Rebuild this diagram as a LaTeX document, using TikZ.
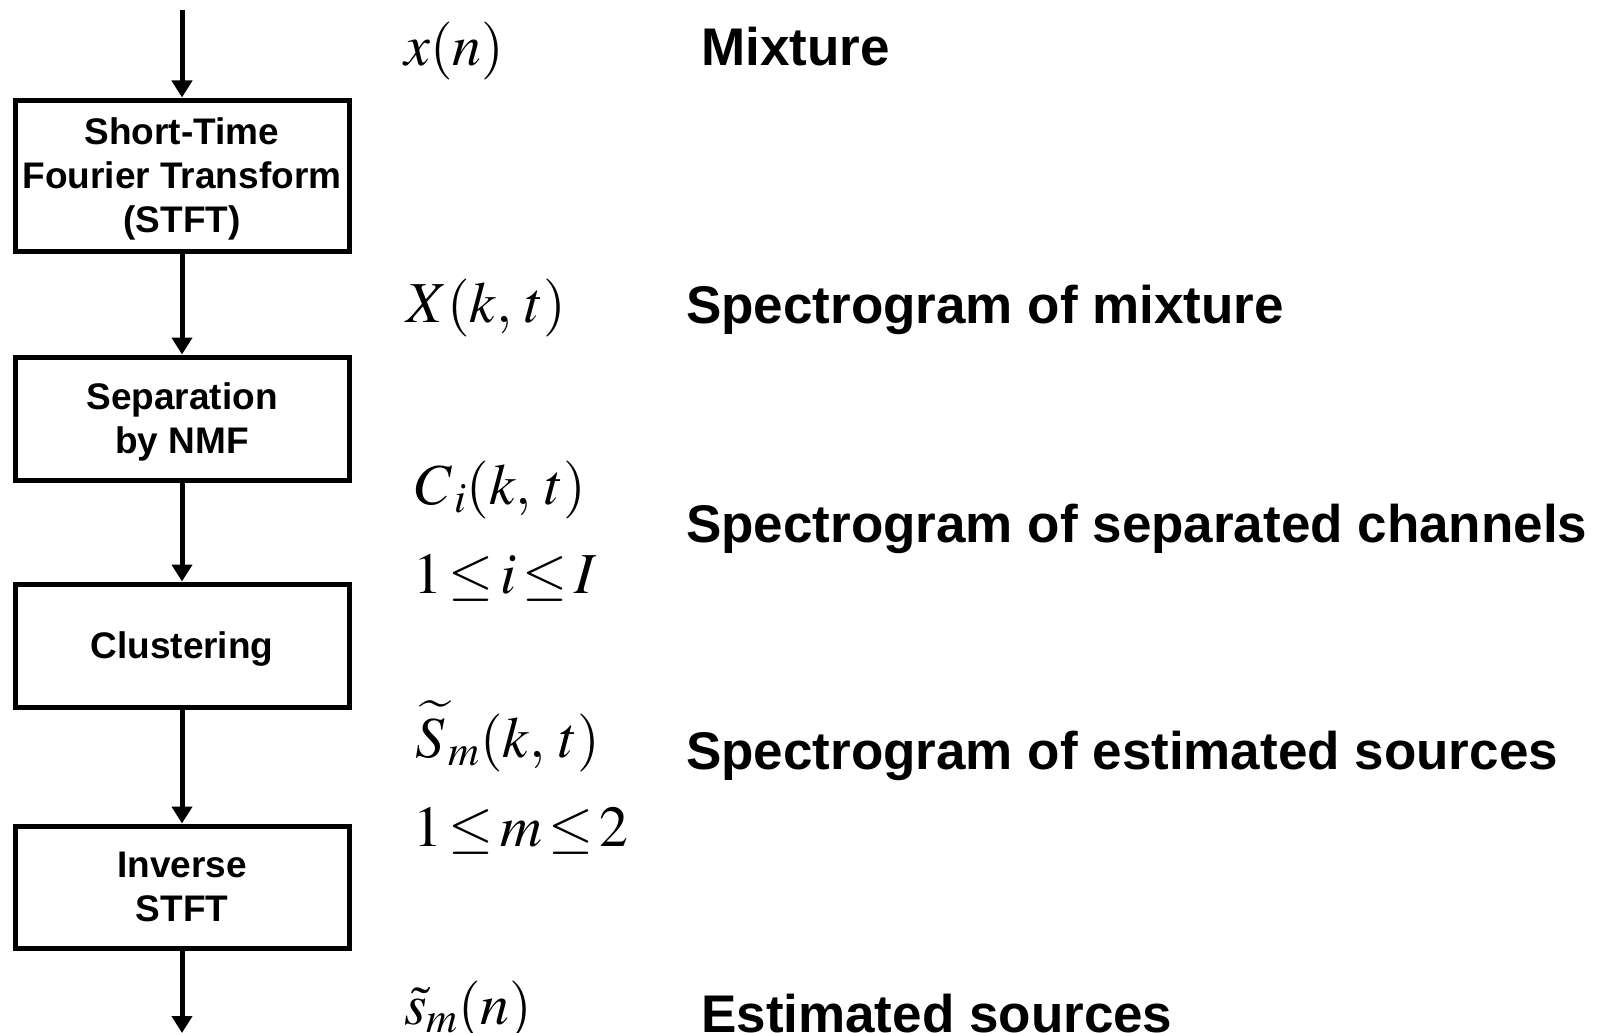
\documentclass[tikz,border=0pt]{standalone}
\usepackage{mathptmx}
\usepackage[no-math]{fontspec}
\setmainfont{Liberation Sans}
\usetikzlibrary{arrows.meta,positioning}

\tikzset{
  stage/.style={draw, line width=5pt, minimum width=334pt, inner sep=0pt,
    align=center, text depth=-6pt, font=\fontsize{37}{44}\selectfont\bfseries},
  sig/.style={anchor=base west, inner sep=0pt, font=\fontsize{58}{64}\selectfont},
  desc/.style={anchor=base west, inner sep=0pt, font=\fontsize{53}{60}\selectfont\bfseries},
  flow/.style={line width=5pt, -{Triangle[length=17pt,width=20pt]}}
}

\begin{document}
\begin{tikzpicture}[x=1pt, y=-1pt]
  \useasboundingbox (0,0) rectangle (1601,1033);

  % processing chain
  \node[stage, minimum height=151pt] (stft)  at (182,175.5) {Short-Time\\Fourier Transform\\(STFT)};
  \node[stage, minimum height=123pt] (nmf)   at (182,418.5) {Separation\\by NMF};
  \node[stage, minimum height=123pt] (clust) at (182,645.5) {Clustering};
  \node[stage, minimum height=122pt] (istft) at (182,887)   {Inverse\\STFT};

  \coordinate (in)  at (182,10);
  \coordinate (out) at (182,1033);

  \draw[flow] (in) -- (stft);
  \draw[flow] (stft) -- (nmf);
  \draw[flow] (nmf) -- (clust);
  \draw[flow] (clust) -- (istft);
  \draw[flow] (istft) -- (out);

  % signals
  \node[sig] (xn)   at (404,66)  {$x(n)$};
  \node[sig] (Xkt)  at (406,322) {$X(k,\,t)$};
  \node[sig] (Ckt)  at (415,504) {$C_{\,i}(k,\,t)$};
  \node[sig] (irng) at (413,593) {$1\,{\le}\,i\,{\le}\,I$};
  \node[sig] (Skt)  at (415,757) {$\widetilde{S}_{\,m}(k,\,t)$};
  \node[sig] (mrng) at (413,846) {$1\,{\le}\,m\,{\le}\,2$};
  \node[sig] (sn)   at (404,1024) {$\tilde{s}_m(n)$};

  % descriptions
  \node[desc] (mix)  at (701,66)   {Mixture};
  \node[desc] (spx)  at (686,323)  {Spectrogram of mixture};
  \node[desc] (spc)  at (686,542)  {Spectrogram of separated channels};
  \node[desc] (sps)  at (686,769)  {Spectrogram of estimated sources};
  \node[desc] (est)  at (701,1032) {Estimated sources};
\end{tikzpicture}
\end{document}
